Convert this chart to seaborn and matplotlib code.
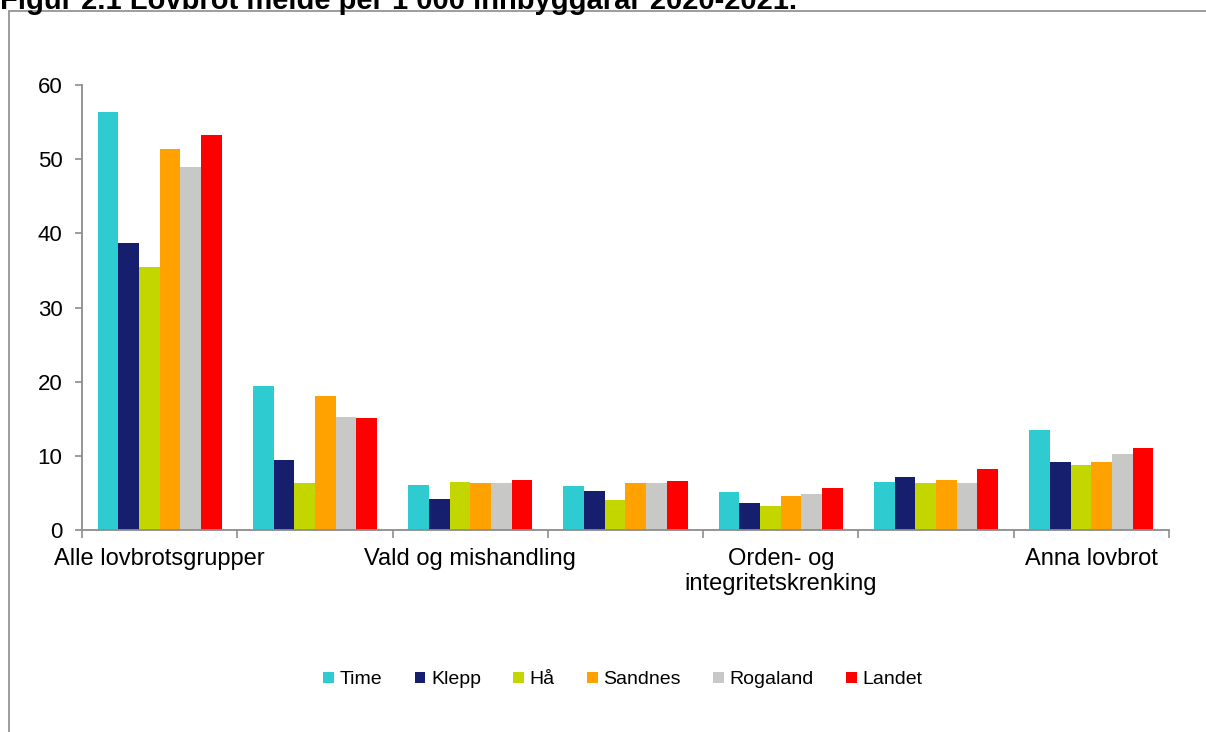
import pandas as pd
import matplotlib
matplotlib.use("Agg")
import matplotlib.pyplot as plt
import matplotlib.patches as mpatches
import seaborn as sns

# --- data ---
kategoriar = ["Alle lovbrotsgrupper", "Vinningslovbrot", "Vald og mishandling",
              "Rusmiddellovbrot", "Orden- og integritetskrenking",
              "Trafikklovbrot", "Anna lovbrot"]
tick_labels = ["Alle lovbrotsgrupper", "", "Vald og mishandling", "",
               "Orden- og\nintegritetskrenking", "", "Anna lovbrot"]
stader = ["Time", "Klepp", "Hå", "Sandnes", "Rogaland", "Landet"]

time_v = [56.3, 19.4, 6.1, 6.0, 5.1, 6.5, 13.5]
klepp_v = [38.7, 9.4, 4.2, 5.3, 3.6, 7.1, 9.2]
haa_v = [35.4, 6.4, 6.5, 4.1, 3.3, 6.3, 8.7]
sandnes_v = [51.4, 18.1, 6.4, 6.4, 4.6, 6.8, 9.2]
rogaland_v = [48.9, 15.3, 6.3, 6.3, 4.8, 6.3, 10.2]
landet_v = [53.2, 15.1, 6.7, 6.6, 5.6, 8.2, 11.1]

fargar = ["#2ECBD1", "#151F6D", "#C4D600", "#FFA200", "#C8C8C6", "#FF0000"]

serie = {"Time": time_v, "Klepp": klepp_v, "Hå": haa_v,
         "Sandnes": sandnes_v, "Rogaland": rogaland_v, "Landet": landet_v}
rows = []
for stad in stader:
    for kat, v in zip(kategoriar, serie[stad]):
        rows.append({"kategori": kat, "stad": stad, "verdi": v})
df = pd.DataFrame(rows)

# --- plot ---
sns.set_style("white")
plt.rcParams["font.family"] = ["Liberation Sans", "DejaVu Sans"]
plt.rcParams["text.color"] = "black"
plt.rcParams["xtick.labelcolor"] = "black"
plt.rcParams["ytick.labelcolor"] = "black"

fig = plt.figure(figsize=(12.06, 7.32), dpi=100)
ax = fig.add_axes([82 / 1206, 1 - 530 / 732, (1169 - 82) / 1206, (530 - 85) / 732])

sns.barplot(data=df, x="kategori", y="verdi", hue="stad", order=kategoriar,
            hue_order=stader, palette=fargar, width=0.8, gap=0, saturation=1,
            edgecolor="none", linewidth=0, ax=ax)

ax.set_ylim(0, 60)
ax.set_xlim(-0.5, len(kategoriar) - 0.5)
ax.set_yticks(range(0, 61, 10))
ax.set_xlabel("")
ax.set_ylabel("")

grey = "#8C8C8C"
for s in ["top", "right"]:
    ax.spines[s].set_visible(False)
for s in ["left", "bottom"]:
    ax.spines[s].set_color(grey)
    ax.spines[s].set_linewidth(1.3)

# tick marks between categories, labels at centres
ax.set_xticks([i - 0.5 for i in range(len(kategoriar) + 1)])
ax.set_xticklabels([])
ax.set_xticks(range(len(kategoriar)), minor=True)
ax.set_xticklabels(tick_labels, minor=True, fontsize=17, linespacing=1.2)
ax.tick_params(axis="x", which="major", direction="out", length=6, color=grey, width=1.2, bottom=True)
ax.tick_params(axis="x", which="minor", length=0, pad=13)
ax.tick_params(axis="y", direction="out", length=5, color=grey, width=1.2, left=True,
               labelsize=16, pad=9)

handles, labels = ax.get_legend_handles_labels()
ax.legend(handles, labels, loc="center", bbox_to_anchor=(623 / 1206, 1 - 680 / 732),
          bbox_transform=fig.transFigure, ncol=6, frameon=False, fontsize=14,
          handlelength=0.55, handleheight=0.55, handletextpad=0.3, columnspacing=1.65)

# chart frame (runs off the right and bottom edge)
fig.patches.append(mpatches.Rectangle((9 / 1206, -0.1), 1.2, 1 - 11 / 732 + 0.1,
                                      transform=fig.transFigure, fill=False,
                                      edgecolor=grey, linewidth=1.2))

# title sits partly above the top edge, as in the source
fig.text(0.0, 1 - 9 / 732, "Figur 2.1 Lovbrot melde per 1 000 innbyggarar 2020-2021.",
         fontsize=21, fontweight="bold", va="baseline", ha="left")

fig.savefig("out.png", dpi=100)
